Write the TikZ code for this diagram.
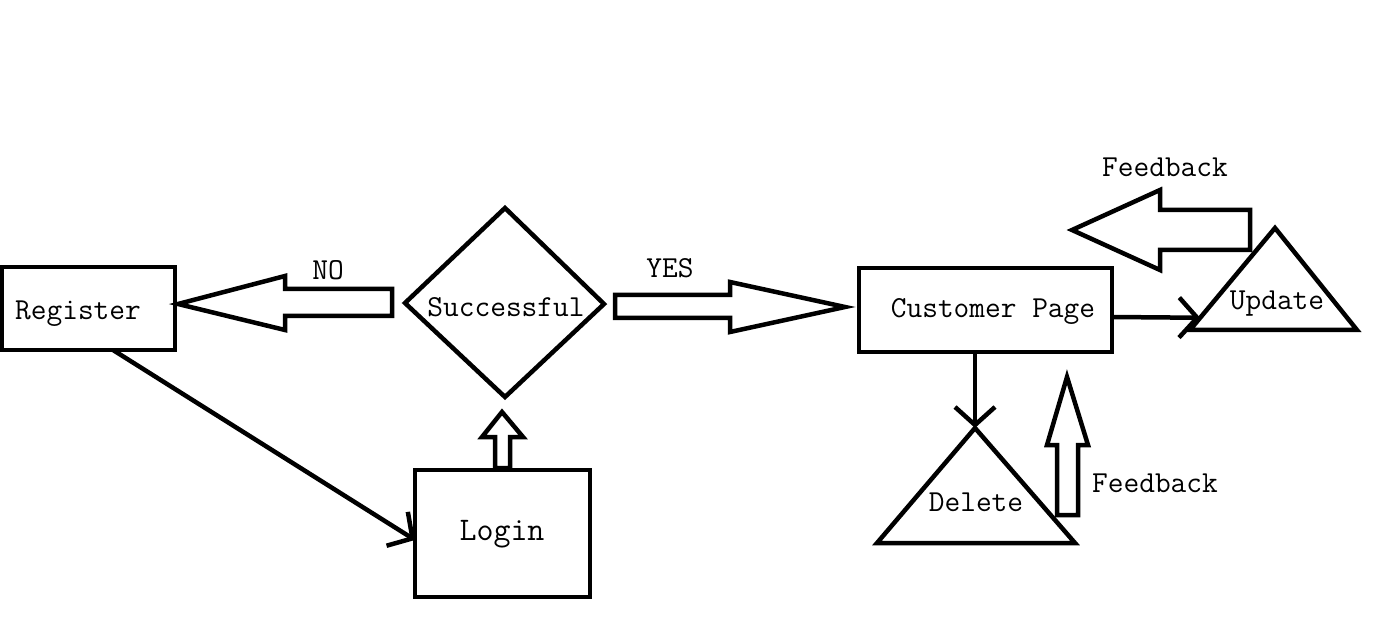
\documentclass[tikz,border=0pt]{standalone}
\usetikzlibrary{arrows.meta,calc}
\begin{document}
\begin{tikzpicture}[x=1pt,y=-1pt,line width=4.5pt,line join=miter,
  box/.style={draw,rectangle,inner sep=0pt,outer sep=0pt},
  lbl/.style={font=\fontsize{30.5}{36}\selectfont\ttfamily,inner sep=0pt},
  conn/.style={-{Straight Barb[length=18pt,width=40pt]}},
  blockarrow/.style={draw,line join=miter}]
\useasboundingbox (0,0) rectangle (1374,620);
% boxes
\node[box,minimum width=173pt,minimum height=83pt] (reg) at (88.5,308.5) {};
\node[box,minimum width=175pt,minimum height=127pt] (login) at (502.5,533.5) {};
\node[box,minimum width=253pt,minimum height=84pt] (cust) at (985.5,310) {};
% diamond
\coordinate (dT) at (505,208);
\coordinate (dR) at (604,304);
\coordinate (dB) at (505,397);
\coordinate (dL) at (405,303);
\draw (dT) -- (dR) -- (dB) -- (dL) -- cycle;
% triangles
\coordinate (upA) at (1275,228);
\coordinate (upR) at (1357,330);
\coordinate (upL) at (1190,330);
\draw (upA) -- (upR) -- (upL) -- cycle;
\coordinate (delA) at (975,428);
\coordinate (delR) at (1075,543);
\coordinate (delL) at (877,543);
\draw (delA) -- (delR) -- (delL) -- cycle;
% labels
\node[lbl] (tReg) at (78,314) {Register};
\node[lbl,font=\fontsize{33}{38}\selectfont\ttfamily] (tLogin) at (502,534) {Login};
\node[lbl] (tSucc) at (506,307) {Successful};
\node[lbl] (tCust) at (993,311) {Customer Page};
\node[lbl] (tUpd) at (1277,304) {Update};
\node[lbl] (tDel) at (976,502) {Delete};
\node[lbl] (tNo) at (328,270) {NO};
\node[lbl] (tYes) at (670,268) {YES};
\node[lbl] (tFb1) at (1165,167) {Feedback};
\node[lbl] (tFb2) at (1155,483) {Feedback};
% connectors
\draw[conn] ([xshift=24.5pt]reg.south) -- ([yshift=-6.5pt]login.west);
\draw[conn] ([yshift=-7pt]cust.east) -- ($(upL)!0.12!(upA)$);
\draw[conn] (cust.south -| delA) -- (delA);
% block arrows
\draw[blockarrow] (392,289) -- (285,289) -- (285,276) -- (178,304) -- (285,330) -- (285,316) -- (392,316) -- cycle;
\draw[blockarrow] (615,295) -- (730,295) -- (730,282) -- (845,307) -- (730,332) -- (730,318) -- (615,318) -- cycle;
\draw[blockarrow] (495,468) -- (495,437) -- (482,437) -- (502,412) -- (523,437) -- (510,437) -- (510,468) -- cycle;
\draw[blockarrow] (1250,210) -- (1160,210) -- (1160,190) -- (1072,230) -- (1160,270) -- (1160,250) -- (1250,250) -- cycle;
\draw[blockarrow] (1057,515) -- (1057,445) -- (1047,445) -- (1067,377) -- (1088,445) -- (1078,445) -- (1078,515) -- cycle;
\end{tikzpicture}
\end{document}
